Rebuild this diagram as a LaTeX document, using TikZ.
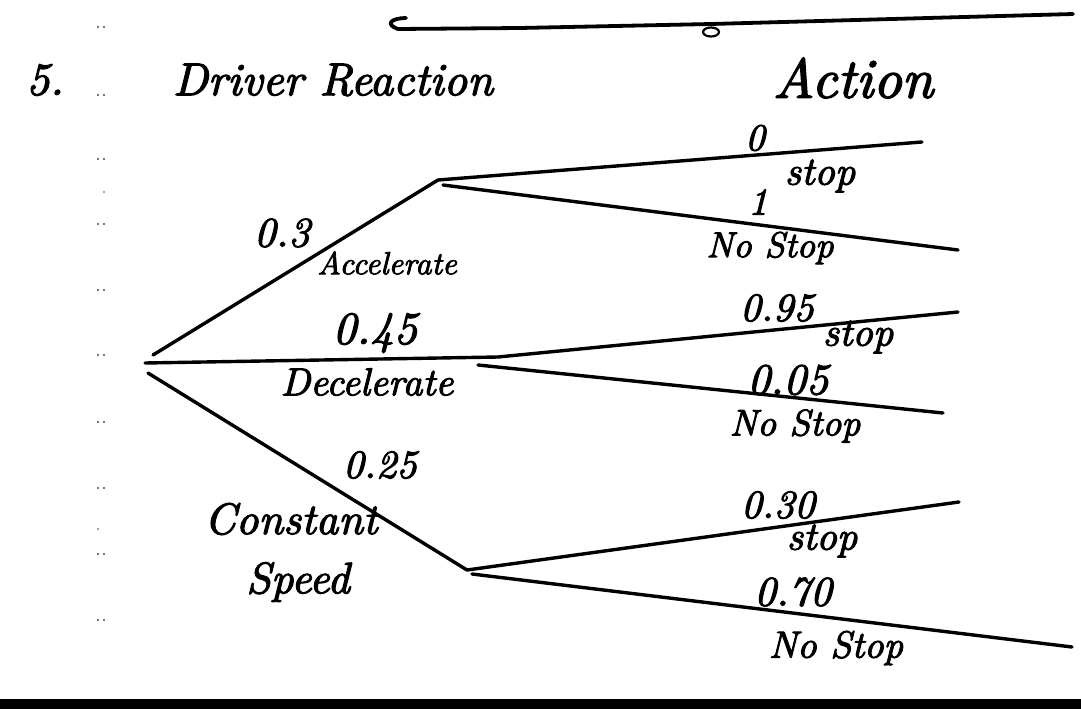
\documentclass[tikz,border=0pt]{standalone}
\usepackage{fontspec}
\newfontfamily\hand{lmroman10-italic.otf}[FakeBold=2.5]
\newcommand{\fsz}[1]{\fontsize{#1}{#1}\selectfont}
\tikzset{
  br/.style={line width=3.4pt, line cap=round, line join=round},
  hw/.style={inner sep=0pt, anchor=center},
  dotm/.style={fill=black!70, draw=none},
}
\begin{document}
\begin{tikzpicture}[x=1pt,y=-1pt]
\useasboundingbox[fill=white] (0,0) rectangle (1081,709);

% top scribble line
\draw[line width=3.8pt, line cap=round, line join=round]
  (406,18) .. controls (392,18) and (384,24) .. (398,29)
  -- (520,28) -- (711,24) -- (1073,14);
\draw[line width=2.2pt] (711,32) ellipse [x radius=8, y radius=4.5];

% margin dots
\foreach \yy in {27,95,159,224,290,355,422,488,554,620}{
  \fill[dotm] (98,\yy) circle (1.2);
  \fill[dotm] (104,\yy) circle (1.2);
}
\fill[dotm] (104,192) circle (0.8);
\fill[dotm] (98,529) circle (0.8);

% headings
\node[hw, font=\hand\fsz{46}] (num) at (45,80) {5.};
\node[hw, font=\hand\fsz{46}] (head1) at (333,80) {Driver Reaction};
\node[hw, font=\hand\fsz{56}] (head2) at (853,78) {Action};

% tree points
\coordinate (root) at (145,363);
\coordinate (acc) at (438,180);
\coordinate (dec) at (498,357);
\coordinate (decb) at (478,365);
\coordinate (con) at (467,570);
\coordinate (accS) at (922,142);
\coordinate (accN) at (958,250);
\coordinate (decS) at (958,312);
\coordinate (decN) at (943,413);
\coordinate (conS) at (959,502);
\coordinate (conN) at (1072,647);

% branches
\draw[br] ([shift={(8,-8)}]root) -- (acc) -- (accS);
\draw[br] ([shift={(5,5)}]acc) -- (accN);
\draw[br] (root) -- (dec) -- (decS);
\draw[br] (decb) -- (decN);
\draw[br] ([shift={(3,10)}]root) -- (con) -- (conS);
\draw[br] ([shift={(5,4)}]con) -- (conN);

% first-stage labels
\node[hw, font=\hand\fsz{42}] (p1) at (282,233) {0.3};
\node[hw, font=\hand\fsz{32}] (l1) at (387,263) {Accelerate};
\node[hw, font=\hand\fsz{46}] (p2) at (375,333) {0.45};
\node[hw, font=\hand\fsz{39}] (l2) at (367,382) {Decelerate};
\node[hw, font=\hand\fsz{40}] (p3) at (380,465) {0.25};
\node[hw, font=\hand\fsz{44}] (l3a) at (291,519) {Constant};
\node[hw, font=\hand\fsz{44}] (l3b) at (298,582) {Speed};

% second-stage labels
\node[hw, font=\hand\fsz{38}] (q1) at (755,138) {0};
\node[hw, font=\hand\fsz{40}] (s1) at (820,176) {stop};
\node[hw, font=\hand\fsz{38}] (q2) at (758,202) {1};
\node[hw, font=\hand\fsz{36}] (n1) at (770,248) {No Stop};

\node[hw, font=\hand\fsz{40}] (q3) at (777,308) {0.95};
\node[hw, font=\hand\fsz{40}] (s2) at (858,337) {stop};
\node[hw, font=\hand\fsz{44}] (q4) at (788,380) {0.05};
\node[hw, font=\hand\fsz{37}] (n2) at (795,426) {No Stop};

\node[hw, font=\hand\fsz{40}] (q5) at (778,505) {0.30};
\node[hw, font=\hand\fsz{40}] (s3) at (822,541) {stop};
\node[hw, font=\hand\fsz{42}] (q6) at (793,592) {0.70};
\node[hw, font=\hand\fsz{38}] (n3) at (836,648) {No Stop};

% bottom bar
\fill (0,699) rectangle (1081,709);
\end{tikzpicture}
\end{document}
